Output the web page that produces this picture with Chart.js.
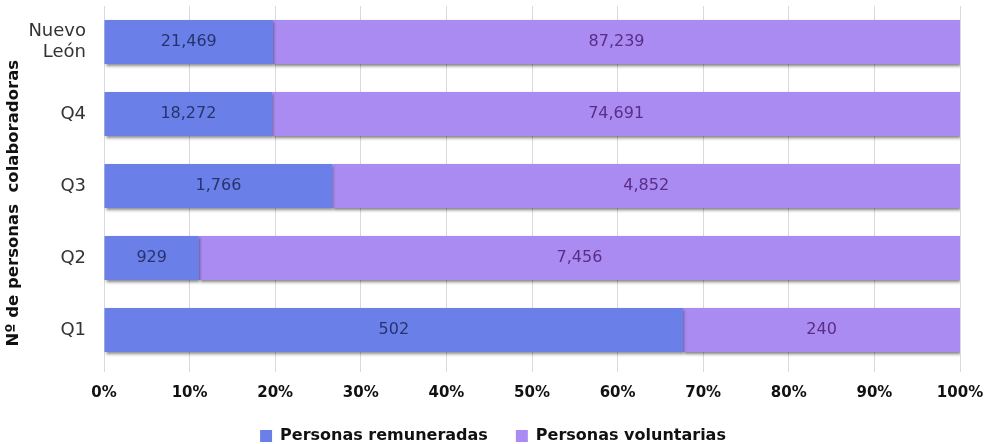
<!DOCTYPE html>
<html>
<head>
<meta charset="utf-8">
<script src="https://cdn.jsdelivr.net/npm/chart.js@4.4.0/dist/chart.umd.min.js"></script>
<style>
html,body{margin:0;padding:0;background:#fff;}
#wrap{width:985px;height:444px;position:relative;}
</style>
</head>
<body>
<div id="wrap"><canvas id="c"></canvas></div>
<script>
const categories = [["Nuevo","León"], "Q4", "Q3", "Q2", "Q1"];
const remuneradas = [21469, 18272, 1766, 929, 502];
const voluntarias = [87239, 74691, 4852, 7456, 240];
const seriesNames = ["Personas remuneradas", "Personas voluntarias"];
const xTicks = ["0%","10%","20%","30%","40%","50%","60%","70%","80%","90%","100%"];
const yTitle = "Nº de personas  colaboradoras";

const totals = remuneradas.map((v,i)=>v+voluntarias[i]);
const pctR = remuneradas.map((v,i)=>v/totals[i]*100);
const pctV = voluntarias.map((v,i)=>v/totals[i]*100);
const rawData = [remuneradas, voluntarias];

const FONT = "'DejaVu Sans', sans-serif";

const shadowPlugin = {
  id:'shadow',
  beforeDatasetDraw(chart){
    const ctx = chart.ctx;
    ctx.save();
    ctx.shadowColor = 'rgba(0,0,0,0.5)';
    ctx.shadowBlur = 3;
    ctx.shadowOffsetX = 1;
    ctx.shadowOffsetY = 2;
  },
  afterDatasetDraw(chart){
    chart.ctx.restore();
  }
};

const legendFitPlugin = {
  id:'legendFit',
  beforeLayout(chart){
    const lg = chart.legend;
    if (lg && !lg._patched){
      const origFit = lg.fit;
      lg.fit = function(){ origFit.call(this); this.height = 44; };
      const origDraw = lg.draw;
      lg.draw = function(){
        const ctx = this.ctx;
        ctx.save();
        ctx.translate(11, 0);
        origDraw.apply(this, arguments);
        ctx.restore();
      };
      lg._patched = true;
    }
  }
};

const labelPlugin = {
  id:'labels',
  afterDatasetsDraw(chart){
    const ctx = chart.ctx;
    ctx.save();
    ctx.font = "16px " + FONT;
    ctx.textAlign = 'center';
    ctx.textBaseline = 'middle';
    const colors = ['#26336e','#5a2d86'];
    chart.data.datasets.forEach((ds,di)=>{
      const meta = chart.getDatasetMeta(di);
      meta.data.forEach((bar,i)=>{
        const p = bar.getProps(['x','y','base'],true);
        const cx = (p.x + p.base)/2;
        ctx.fillStyle = colors[di];
        ctx.fillText(rawData[di][i].toLocaleString('en-US'), cx, p.y);
      });
    });
    ctx.restore();
  }
};

new Chart(document.getElementById('c'), {
  type:'bar',
  data:{
    labels:categories,
    datasets:[
      {label:seriesNames[0], data:pctR, backgroundColor:'#6a80e8', categoryPercentage:0.61, barPercentage:1.0},
      {label:seriesNames[1], data:pctV, backgroundColor:'#a98bf1', categoryPercentage:0.61, barPercentage:1.0}
    ]
  },
  options:{
    indexAxis:'y',
    responsive:true,
    maintainAspectRatio:false,
    animation:false,
    layout:{padding:{top:6,right:25,left:4,bottom:0}},
    plugins:{
      legend:{
        position:'bottom',
        labels:{
          font:{family:FONT,size:16,weight:'bold'},
          color:'#111',
          boxWidth:12,boxHeight:12,
          padding:28
        }
      },
      tooltip:{enabled:false}
    },
    scales:{
      x:{
        stacked:true,
        min:0,max:100,
        ticks:{
          stepSize:10,
          font:{family:FONT,size:15,weight:'bold'},
          color:'#111',
          padding:12,
          callback:(v,i)=>xTicks[i]
        },
        grid:{color:'#d9d9d9',lineWidth:1,drawTicks:true,tickLength:6},
        border:{display:false},
        afterFit(scale){ scale.height = 34; scale.paddingRight = 0; scale.paddingLeft = 0; }
      },
      y:{
        stacked:true,
        ticks:{
          font:{family:FONT,size:18},
          color:'#333',
          padding:10
        },
        grid:{display:false},
        border:{display:false},
        title:{
          display:true,
          text:yTitle + "\u00a0\u00a0\u00a0\u00a0\u00a0\u00a0",
          font:{family:FONT,size:16.5,weight:'bold'},
          color:'#111',
          padding:{top:0,bottom:2}
        },
        afterFit(scale){ scale.width = 100; scale.paddingTop = 0; scale.paddingBottom = 0; }
      }
    }
  },
  plugins:[legendFitPlugin,shadowPlugin,labelPlugin]
});
</script>
</body>
</html>
